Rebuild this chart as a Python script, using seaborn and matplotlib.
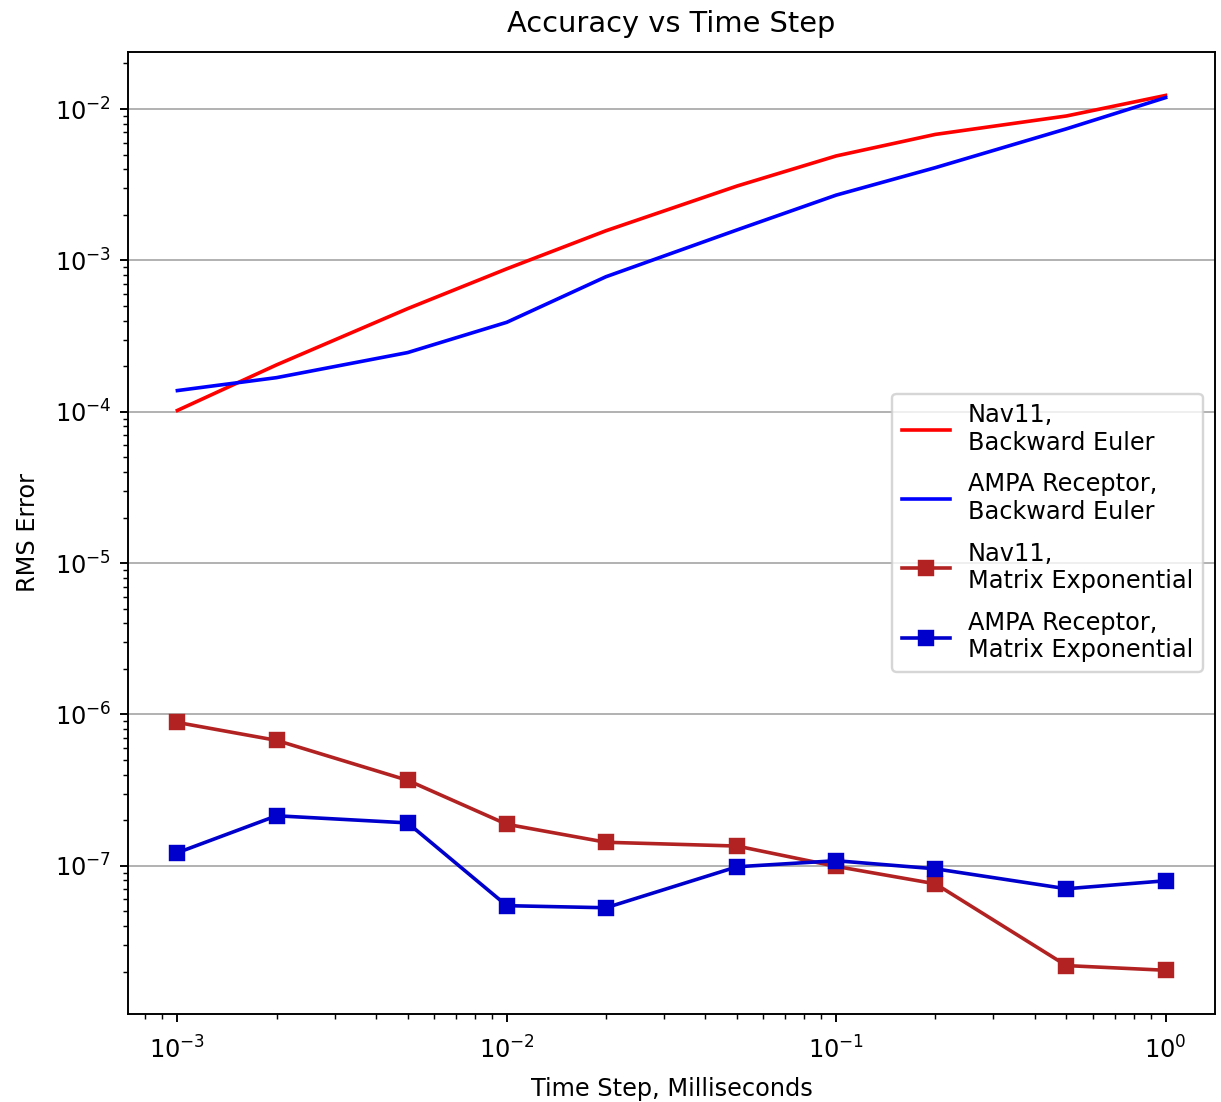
import numpy as np
import pandas as pd
import matplotlib
matplotlib.use("Agg")
import matplotlib.pyplot as plt
import seaborn as sns

# ---- data ----
time_steps = [1e-3, 2e-3, 5e-3, 1e-2, 2e-2, 5e-2, 0.1, 0.2, 0.5, 1.0]

nav11_backward_euler = [1.02e-4, 2.04e-4, 4.8e-4, 8.8e-4, 1.57e-3, 3.1e-3, 4.9e-3, 6.8e-3, 9.0e-3, 1.23e-2]
ampa_backward_euler = [1.38e-4, 1.68e-4, 2.46e-4, 3.9e-4, 7.8e-4, 1.59e-3, 2.7e-3, 4.1e-3, 7.4e-3, 1.19e-2]
nav11_matrix_exp = [8.85e-7, 6.74e-7, 3.67e-7, 1.88e-7, 1.43e-7, 1.35e-7, 9.9e-8, 7.6e-8, 2.19e-8, 2.04e-8]
ampa_matrix_exp = [1.22e-7, 2.14e-7, 1.92e-7, 5.45e-8, 5.28e-8, 9.85e-8, 1.08e-7, 9.55e-8, 7.05e-8, 7.96e-8]

series_labels = [
    "Nav11,\nBackward Euler",
    "AMPA Receptor,\nBackward Euler",
    "Nav11,\nMatrix Exponential",
    "AMPA Receptor,\nMatrix Exponential",
]
series_values = [nav11_backward_euler, ampa_backward_euler, nav11_matrix_exp, ampa_matrix_exp]
series_colors = ["#ff0000", "#0000ff", "#b22222", "#0000cd"]
series_markers = [None, None, "s", "s"]

title = "Accuracy vs Time Step"
xlabel = "Time Step, Milliseconds"
ylabel = "RMS Error"

# ---- figure ----
DPI = 173
fig = plt.figure(figsize=(1221 / DPI, 1102 / DPI), dpi=DPI)
ax = fig.add_axes([128 / 1221, 1 - 1014 / 1102, (1215 - 128) / 1221, (1014 - 51.7) / 1102])

for lab, vals, col, mk in zip(series_labels, series_values, series_colors, series_markers):
    df = pd.DataFrame({"dt": time_steps, "err": vals})
    kw = dict(color=col, label=lab, linewidth=1.5)
    if mk is not None:
        kw.update(marker=mk, markersize=6, markeredgecolor=col, markeredgewidth=1.0)
    sns.lineplot(data=df, x="dt", y="err", ax=ax, **kw)

ax.set_xscale("log")
ax.set_yscale("log")
ax.grid(axis="y", which="major")
ax.tick_params(axis="x", which="major", pad=6)
ax.set_title(title, pad=8)
ax.set_xlabel(xlabel, labelpad=5.5)
ax.set_ylabel(ylabel, labelpad=6)
ax.legend(loc="center right", labelspacing=0.72, handletextpad=0.75)

fig.savefig("out.png", dpi=DPI)
